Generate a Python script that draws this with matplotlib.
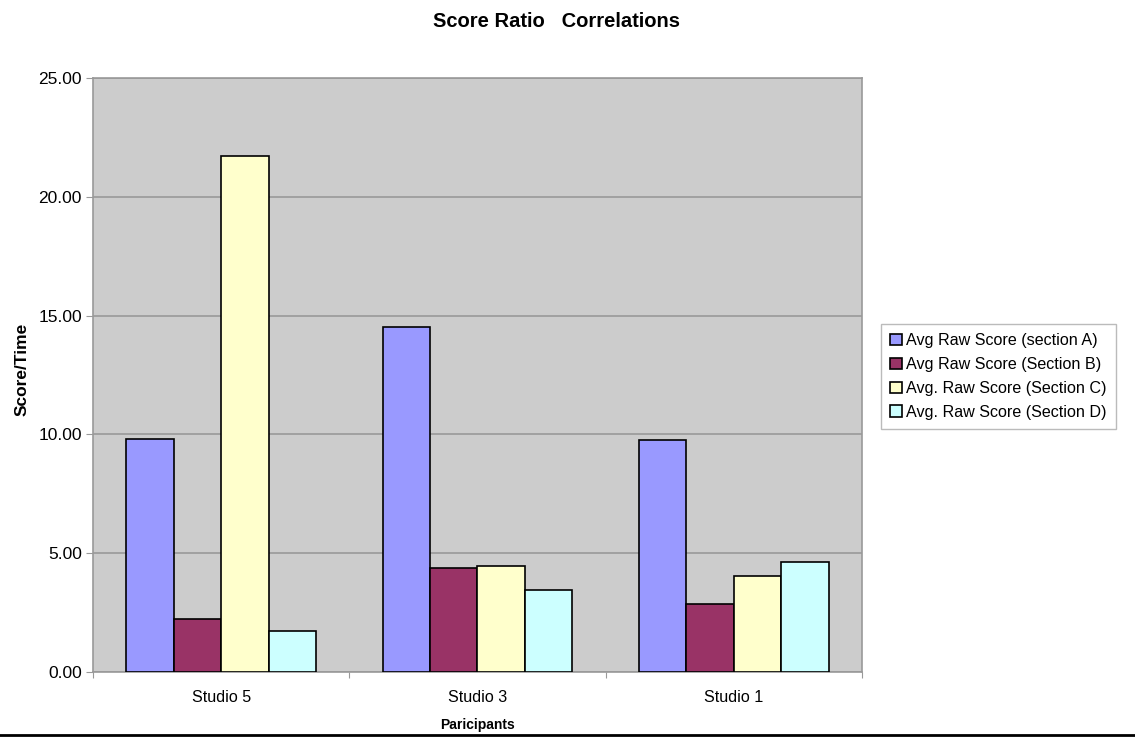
import numpy as np
import matplotlib
matplotlib.use("Agg")
import matplotlib.pyplot as plt
from matplotlib.lines import Line2D

plt.rcParams['font.family'] = ['Liberation Sans', 'DejaVu Sans']

studios = ['Studio 5', 'Studio 3', 'Studio 1']
series_names = ['Avg Raw Score (section A)', 'Avg Raw Score (Section B)',
                'Avg. Raw Score (Section C)', 'Avg. Raw Score (Section D)']
section_a = [9.80, 14.52, 9.76]
section_b = [2.23, 4.39, 2.85]
section_c = [21.70, 4.47, 4.04]
section_d = [1.73, 3.45, 4.64]
yticks = [0, 5, 10, 15, 20, 25]

colors = ['#9999ff', '#993366', '#ffffcc', '#ccffff']

fig = plt.figure(figsize=(11.35, 7.38), dpi=100)
ax = fig.add_axes([0.0819, 0.0894, 0.6776, 0.8049])
ax.set_facecolor('#cccccc')

x = np.arange(len(studios))
w = 0.185
all_series = [section_a, section_b, section_c, section_d]
for i, vals in enumerate(all_series):
    ax.bar(x + (i - 1.5) * w, vals, width=w, color=colors[i],
           edgecolor='black', linewidth=1.2, label=series_names[i], zorder=3)

ax.set_xlim(-0.5, 2.5)
ax.set_ylim(0, 25)
ax.set_yticks(yticks)
ax.set_yticklabels([f'{v:.2f}' for v in yticks], fontsize=12.5)
ax.yaxis.grid(True, color='#999999', linewidth=1.2, zorder=0)
ax.set_axisbelow(True)

# category ticks sit between groups, labels at the centres
ax.set_xticks([-0.5, 0.5, 1.5, 2.5])
ax.set_xticklabels([])
ax.set_xticks(x, minor=True)
ax.set_xticklabels(studios, minor=True, fontsize=11.6)
ax.tick_params(axis='x', which='minor', length=0, pad=13)
ax.tick_params(axis='x', which='major', length=4, color='#999999')
ax.tick_params(axis='y', length=5, pad=3, color='#999999')

for side in ['left', 'right', 'top', 'bottom']:
    ax.spines[side].set_color('#999999')
    ax.spines[side].set_linewidth(1.2)

ax.set_xlabel('Paricipants', fontsize=10, fontweight='bold', labelpad=9)
ax.set_ylabel('Score/Time', fontsize=12.5, fontweight='bold')
ax.yaxis.set_label_coords(-0.082, 0.51)
fig.text(0.49, 0.971, 'Score Ratio   Correlations', ha='center', va='center',
         fontsize=14.5, fontweight='bold')

leg = fig.legend(loc='center left', bbox_to_anchor=(0.7695, 0.490), fontsize=11.6,
                 frameon=True, fancybox=False, edgecolor='#aaaaaa',
                 handlelength=0.7, handleheight=0.7, handletextpad=0.3,
                 labelspacing=0.55, borderpad=0.55)
leg.get_frame().set_linewidth(1.0)

# rule across the bottom of the figure
fig.add_artist(Line2D([0, 1], [0.004, 0.004], color='black', linewidth=2,
                      transform=fig.transFigure))

fig.savefig('out.png', dpi=100)
